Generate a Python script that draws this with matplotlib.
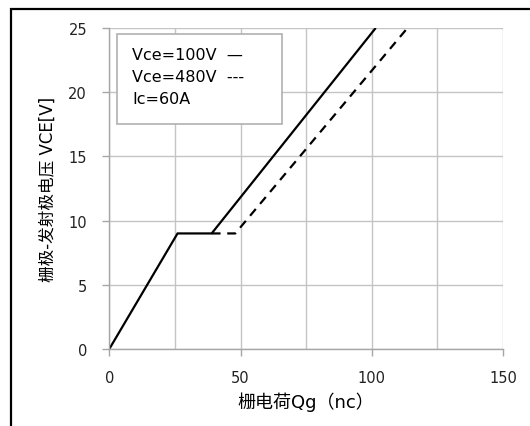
import matplotlib
matplotlib.use('Agg')
import matplotlib.pyplot as plt
from matplotlib.patches import Rectangle

plt.rcParams['font.family'] = ['DejaVu Sans', 'Noto Sans CJK SC']

# Vce=100V (solid)
qg_100 = [0, 26, 39, 101.5]
vge_100 = [0, 9, 9, 25]
# Vce=480V (dashed) - shares the start with the solid curve
qg_480 = [39, 48, 113.6]
vge_480 = [9, 9, 25]

x_ticks = [0, 50, 100, 150]
x_minor = [25, 75, 125]
y_ticks = [0, 5, 10, 15, 20, 25]

fig = plt.figure(figsize=(5.3, 4.27), dpi=100)
ax = fig.add_axes([109.3 / 530, 1 - 350 / 427, (503 - 109.3) / 530, (350 - 29) / 427])

ax.plot(qg_100, vge_100, color='black', lw=1.6, solid_capstyle='butt')
ax.plot(qg_480, vge_480, color='black', lw=1.6, dashes=(4, 3))

ax.set_xlim(0, 150)
ax.set_ylim(0, 25)
ax.set_xticks(x_ticks)
ax.set_xticks(x_minor, minor=True)
ax.set_yticks(y_ticks)
ax.grid(True, which='both', color='#c4c4c4', lw=1.0)
ax.set_axisbelow(True)
for s in ['top', 'right']:
    ax.spines[s].set_visible(False)
for s in ['left', 'bottom']:
    ax.spines[s].set_color('#a6a6a6')
    ax.spines[s].set_linewidth(1.0)
ax.tick_params(axis='both', color='#a6a6a6', length=5, width=1.0,
               labelsize=10.5, labelcolor='#222222')
ax.tick_params(axis='x', which='minor', length=0)
ax.tick_params(axis='y', pad=11)
ax.tick_params(axis='x', pad=10)

ax.set_xlabel('栅电荷Qg（nc）', fontsize=13, labelpad=5)
ax.set_ylabel('栅极-发射极电压 VCE[V]', fontsize=12, labelpad=8)

# text box in place of legend
box = Rectangle((116.7 / 530, 1 - 125 / 427), (281.7 - 116.7) / 530, (125 - 35) / 427,
                transform=fig.transFigure, facecolor='white', edgecolor='#b0b0b0', lw=1.2)
fig.patches.append(box)
fig.text(132 / 530, 1 - 55 / 427, 'Vce=100V  —', fontsize=11.5, va='center', ha='left')
fig.text(132 / 530, 1 - 78 / 427, 'Vce=480V  ---', fontsize=11.5, va='center', ha='left')
fig.text(132 / 530, 1 - 100 / 427, 'Ic=60A', fontsize=11.5, va='center', ha='left')

# outer frame (left and top edges visible)
frame = Rectangle((11 / 530, -0.1), 1.2, 1 - 10 / 427 + 0.1, transform=fig.transFigure,
                  facecolor='none', edgecolor='black', lw=1.6)
fig.patches.append(frame)

fig.savefig('out.png', dpi=100)
